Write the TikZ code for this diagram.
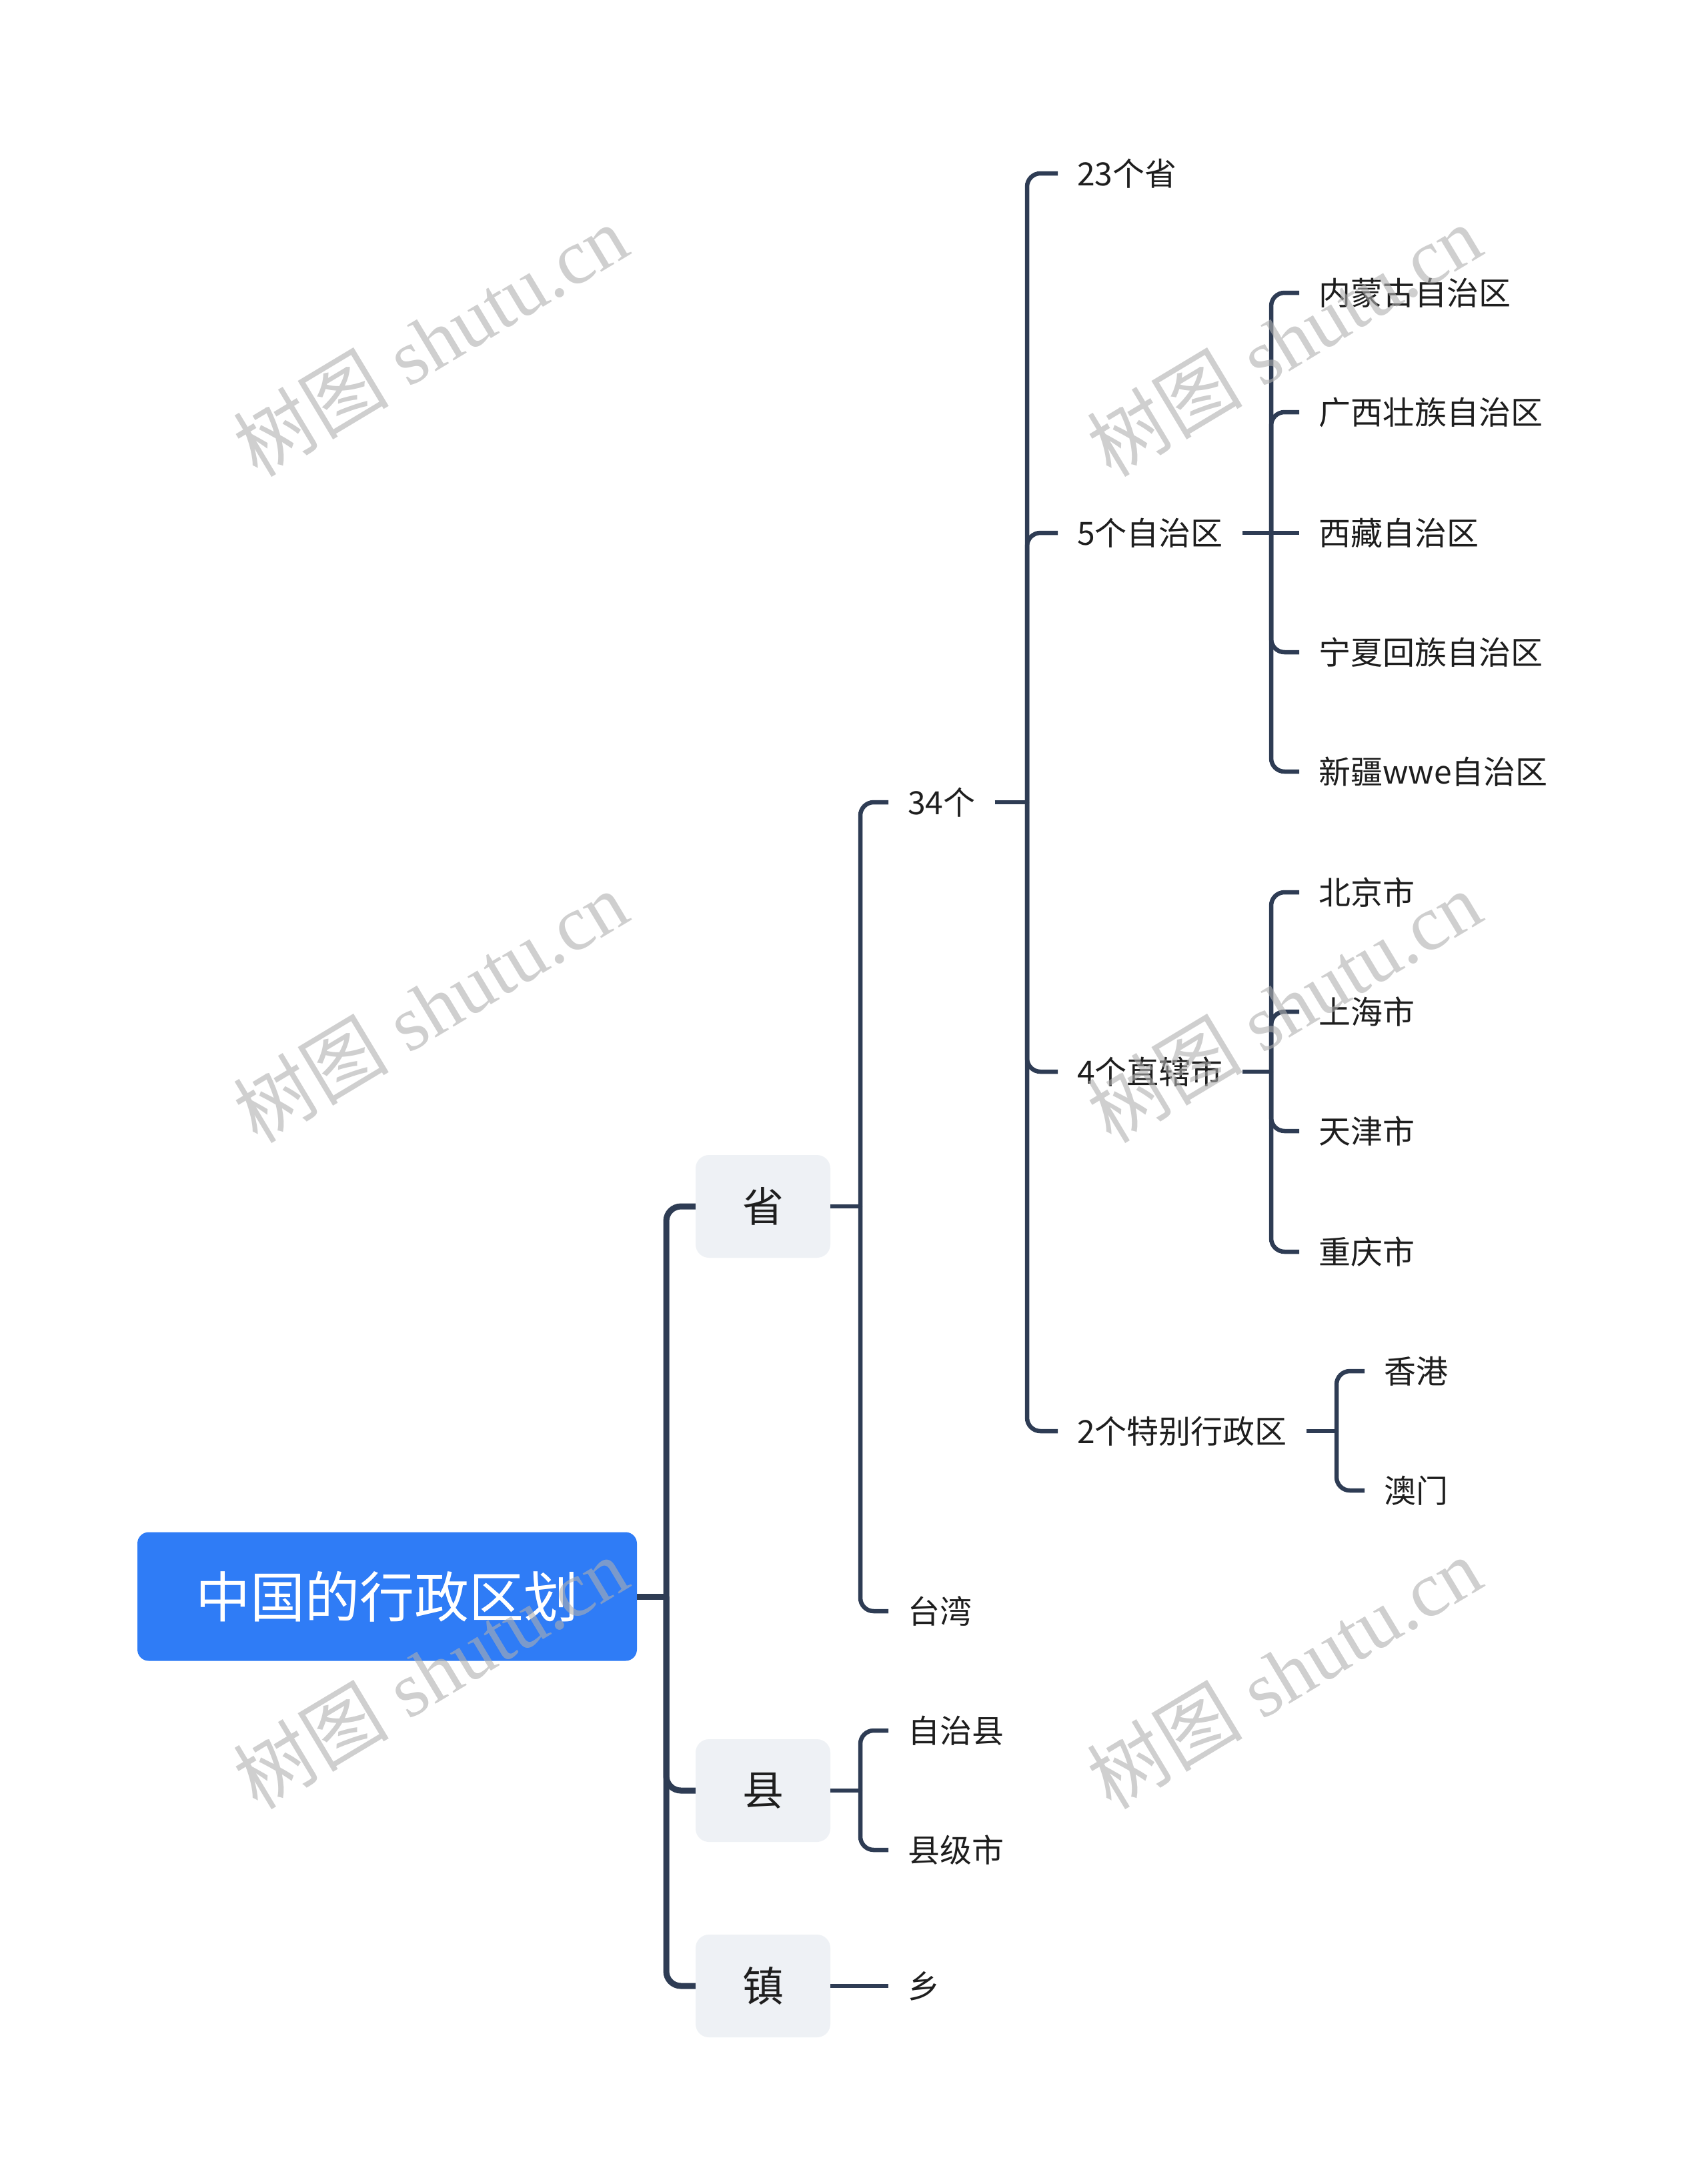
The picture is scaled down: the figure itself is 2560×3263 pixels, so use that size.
\documentclass[tikz,border=0pt]{standalone}
\usepackage{fontspec}
\setmainfont{Noto Sans CJK SC}
\newfontfamily\wmlatin{Liberation Serif}
\newfontfamily\wmcjk{Noto Sans CJK SC}
\definecolor{rootblue}{HTML}{2F7CF6}
\definecolor{boxgrey}{HTML}{EEF1F5}
\definecolor{lnc}{HTML}{2E3C54}
\definecolor{txt}{HTML}{1E1E1E}
\definecolor{wmc}{HTML}{AFAFAF}
\tikzset{
  rootbox/.style={fill=rootblue, rounded corners=17pt, minimum width=749pt, minimum height=193pt, text=white, inner sep=0pt, font=\fontsize{82}{98}\selectfont},
  mainbox/.style={fill=boxgrey, rounded corners=20pt, minimum width=202pt, minimum height=154pt, text=txt, inner sep=0pt, font=\fontsize{62}{74}\selectfont},
  leaf/.style={anchor=west, inner xsep=29pt, inner ysep=0pt, text=txt, font=\fontsize{48}{58}\selectfont},
  conn/.style={draw=lnc, line width=6.5pt, rounded corners=20pt},
  connmain/.style={conn, line width=9pt, rounded corners=22pt},
  wm/.style={text=wmc, opacity=0.6, rotate=31, font=\fontsize{117}{117}\wmlatin}
}
\begin{document}
\begin{tikzpicture}[x=1pt,y=-1pt]
\fill[white] (0,0) rectangle (2560,3263);
\useasboundingbox (0,0) rectangle (2560,3263);

% nodes
\node[rootbox] (root) at (580.5,2394) {中国的行政区划};
\node[mainbox] (sheng) at (1144,1809) {省};
\node[mainbox] (xian) at (1144,2685) {县};
\node[mainbox] (zhen) at (1144,2978) {镇};

\node[leaf] (n34) at (1332,1203) {34个};
\node[leaf] (tw) at (1332,2416) {台湾};
\node[leaf] (zzx) at (1332,2595) {自治县};
\node[leaf] (xjs) at (1332,2774) {县级市};
\node[leaf] (xiang) at (1332,2978) {乡};

\node[leaf] (s23) at (1586,260) {23个省};
\node[leaf] (z5) at (1586,799) {5个自治区};
\node[leaf] (z4) at (1586,1607) {4个直辖市};
\node[leaf] (z2) at (1586,2146) {2个特别行政区};

\node[leaf] (nmg) at (1948,439) {内蒙古自治区};
\node[leaf] (gx) at (1948,618) {广西壮族自治区};
\node[leaf] (xz) at (1948,799) {西藏自治区};
\node[leaf] (nx) at (1948,978) {宁夏回族自治区};
\node[leaf] (xj) at (1948,1157) {新疆wwe自治区};

\node[leaf] (bj) at (1948,1338) {北京市};
\node[leaf] (sh) at (1948,1517) {上海市};
\node[leaf] (tj) at (1948,1696) {天津市};
\node[leaf] (cq) at (1948,1877) {重庆市};

\node[leaf] (hk) at (2046,2056) {香港};
\node[leaf] (mo) at (2046,2235) {澳门};

% connectors
\draw[connmain] (root.east) -- (999,2394) coordinate (j0);
\draw[connmain] (j0) |- (sheng.west);
\draw[connmain] (j0) |- (xian.west);
\draw[connmain] (j0) |- (zhen.west);

\draw[conn] (sheng.east) -- (1290,1809) coordinate (j1);
\draw[conn] (j1) |- (n34.west);
\draw[conn] (j1) |- (tw.west);

\draw[conn] (xian.east) -- (1290,2685) coordinate (j2);
\draw[conn] (j2) |- (zzx.west);
\draw[conn] (j2) |- (xjs.west);

\draw[conn] (zhen.east) -- (xiang.west);

\draw[conn] (n34.east) -- (1540,1203) coordinate (j3);
\draw[conn] (j3) |- (s23.west);
\draw[conn] (j3) |- (z5.west);
\draw[conn] (j3) |- (z4.west);
\draw[conn] (j3) |- (z2.west);

\draw[conn] (z5.east) -- (1906,799) coordinate (j4);
\draw[conn] (j4) |- (nmg.west);
\draw[conn] (j4) |- (gx.west);
\draw[conn] (j4) -- (xz.west);
\draw[conn] (j4) |- (nx.west);
\draw[conn] (j4) |- (xj.west);

\draw[conn] (z4.east) -- (1906,1607) coordinate (j5);
\draw[conn] (j5) |- (bj.west);
\draw[conn] (j5) |- (sh.west);
\draw[conn] (j5) |- (tj.west);
\draw[conn] (j5) |- (cq.west);

\draw[conn] (z2.east) -- (2004,2146) coordinate (j6);
\draw[conn] (j6) |- (hk.west);
\draw[conn] (j6) |- (mo.west);

% watermarks
\node[wm] (w1) at (645,510) {{\wmcjk 树图} shutu.cn};
\node[wm] (w2) at (1925,510) {{\wmcjk 树图} shutu.cn};
\node[wm] (w3) at (645,1509) {{\wmcjk 树图} shutu.cn};
\node[wm] (w4) at (1925,1509) {{\wmcjk 树图} shutu.cn};
\node[wm] (w5) at (645,2508) {{\wmcjk 树图} shutu.cn};
\node[wm] (w6) at (1925,2508) {{\wmcjk 树图} shutu.cn};
\end{tikzpicture}
\end{document}
